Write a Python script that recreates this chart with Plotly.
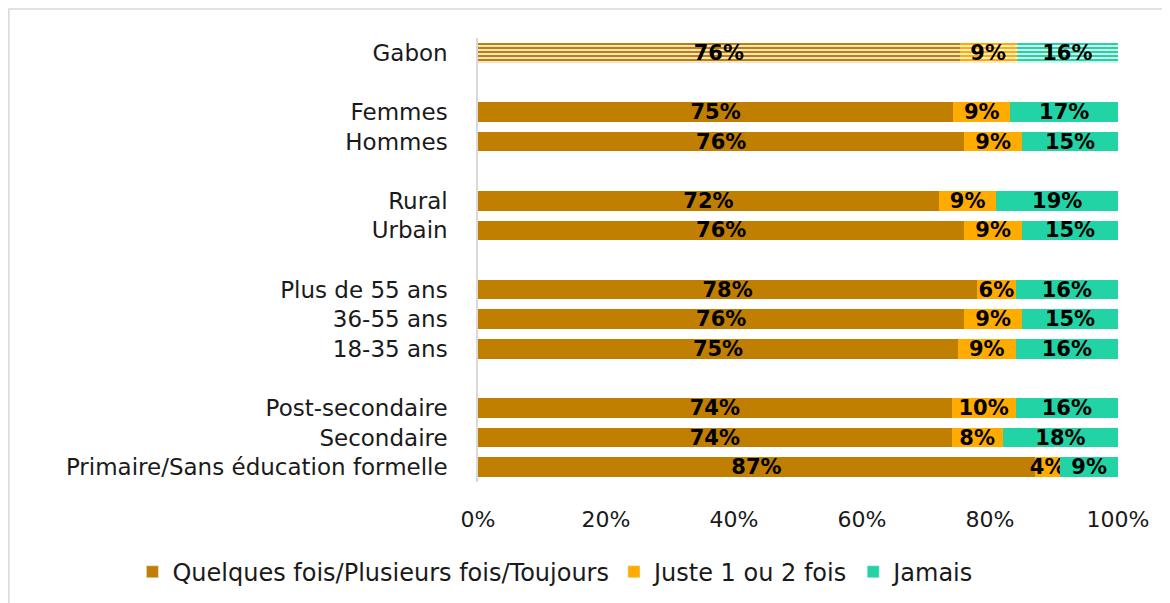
import plotly.graph_objects as go

# categories (None = empty spacer row between groups)
categories = ["Gabon", None, "Femmes", "Hommes", None, "Rural", "Urbain", None,
              "Plus de 55 ans", "36-55 ans", "18-35 ans", None,
              "Post-secondaire", "Secondaire", "Primaire/Sans éducation formelle"]

souvent = [76, None, 75, 76, None, 72, 76, None, 78, 76, 75, None, 74, 74, 87]
une_deux = [9, None, 9, 9, None, 9, 9, None, 6, 9, 9, None, 10, 8, 4]
jamais = [16, None, 17, 15, None, 19, 15, None, 16, 15, 16, None, 16, 18, 9]

series = [
    ("Quelques fois/Plusieurs fois/Toujours", souvent, "#C07F00"),
    ("Juste 1 ou 2 fois", une_deux, "#FFAB00"),
    ("Jamais", jamais, "#22D3A5"),
]

rows = [i for i, c in enumerate(categories) if c is not None]
labels = [categories[i] for i in rows]
totals = {i: sum(s[1][i] for s in series) for i in rows}

label_font = dict(family="DejaVu Sans", size=21, color="black", weight="bold")

fig = go.Figure()
for name, vals, col in series:
    solid = [i for i in rows if categories[i] != "Gabon"]
    striped = [i for i in rows if categories[i] == "Gabon"]
    for idx, is_striped in ((solid, False), (striped, True)):
        v = [vals[i] for i in idx]
        x = [vals[i] / totals[i] * 100 for i in idx]
        if is_striped:
            marker = dict(color="white", line_width=0,
                          pattern=dict(shape="-", fgcolor=col, bgcolor="white",
                                       fgopacity=1, size=4, solidity=0.6,
                                       fillmode="overlay"))
        else:
            marker = dict(color=col, line_width=0)
        fig.add_trace(go.Bar(
            y=idx, x=x, orientation="h", name=name,
            text=[f"{val}%" for val in v],
            textposition="inside", insidetextanchor="middle", textangle=0,
            textfont=label_font, marker=marker,
            width=0.66, showlegend=False, hoverinfo="skip",
        ))
    # legend entry with solid color
    fig.add_trace(go.Bar(y=[None], x=[None], orientation="h", name=name,
                         marker_color=col, showlegend=True))

fig.update_layout(
    barmode="stack",
    width=1170, height=603,
    margin=dict(l=470, r=60, t=30, b=129, autoexpand=False),
    paper_bgcolor="white", plot_bgcolor="white",
    font=dict(family="DejaVu Sans", size=22, color="#1a1a1a"),
    uniformtext=dict(minsize=21, mode="show"),
    xaxis=dict(range=[0, 100], tickvals=[0, 20, 40, 60, 80, 100],
               ticktext=["0%", "20%", "40%", "60%", "80%", "100%"],
               showgrid=False, zeroline=False, automargin=False,
               showline=False, ticks="", ticklabelstandoff=22),
    yaxis=dict(range=[14.5, -0.5], tickvals=rows, ticktext=labels,
               tickfont=dict(size=23),
               showgrid=False, zeroline=False, showline=True, automargin=False,
               linecolor="#D9D9D9", linewidth=1.5, ticks="",
               ticklabelstandoff=24),
    legend=dict(orientation="h", x=-0.54, xanchor="left",
                y=-0.203, yanchor="middle",
                font=dict(size=24), traceorder="normal"),
    shapes=[dict(type="rect", xref="paper", yref="paper",
                 x0=-0.733, x1=1.2, y0=-0.4, y1=1.0653,
                 line=dict(color="#D9D9D9", width=1.5), layer="below")],
)

fig.write_html("out.html")
